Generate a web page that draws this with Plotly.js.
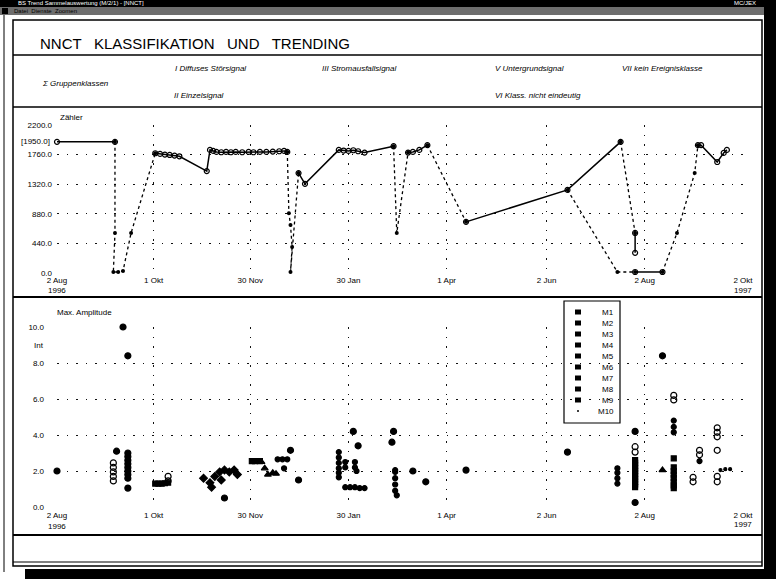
<!DOCTYPE html>
<html><head><meta charset="utf-8">
<script src="https://cdn.plot.ly/plotly-3.0.1.min.js"></script>
<style>html,body{margin:0;padding:0;background:#fff;}#chart{width:776px;height:579px;}</style>
</head><body><div id="chart"></div>
<script>
// ---------------- data ----------------
const tickDates = ['1996-08-02','1996-10-01','1996-11-30','1997-01-30','1997-04-01','1997-06-02','1997-08-02','1997-10-02'];
const tickLabels = ['2 Aug','1 Okt','30 Nov','30 Jan','1 Apr','2 Jun','2 Aug','2 Okt'];
const yearLabels = ['1996','1997'];
const yTopTicks = [0,440,880,1320,1760,2200];
const yTopLabels = ['0.0','440.0','880.0','1320.0','1760.0','2200.0'];
const yBotTicks = [0,2,4,6,8,10];
const yBotLabels = ['0.0','2.0','4.0','6.0','8.0','10.0'];
const cursorValue = 1950;
const intLevel = 9;

const headerTitle = 'NNCT   KLASSIFIKATION   UND   TRENDING';
const classTexts = ['I Diffuses Störsignal','III Stromausfallsignal','V Untergrundsignal','VII kein Ereignisklasse',
                    'Σ Gruppenklassen','II Einzelsignal','VI Klass. nicht eindeutig'];

// trend (Zähler) – solid connections, null = gap
const trendSolidDates = [
 '1996-08-02','1996-09-07',null,
 '1996-10-02','1996-10-05','1996-10-08','1996-10-11','1996-10-14','1996-10-17','1996-11-03','1996-11-05','1996-11-07','1996-11-09','1996-11-12','1996-11-15','1996-11-18','1996-11-21','1996-11-25','1996-11-29','1996-12-02','1996-12-06','1996-12-10','1996-12-14','1996-12-18','1996-12-21','1996-12-23',null,
 '1996-12-30','1997-01-03','1997-01-24','1997-01-27','1997-01-30','1997-02-02','1997-02-05','1997-02-09','1997-02-27',null,
 '1997-03-08','1997-03-11','1997-03-15','1997-03-20',null,
 '1997-04-13','1997-06-15','1997-07-18',null,
 '1997-07-27','1997-07-27',null,
 '1997-07-27','1997-08-13',null,
 '1997-09-04','1997-09-06','1997-09-16','1997-09-20','1997-09-22'];
const trendSolidValues = [
 1950,1950,null,
 1780,1770,1760,1755,1745,1735,1515,1830,1815,1800,1795,1800,1795,1800,1795,1800,1795,1800,1800,1805,1810,1815,1800,null,
 1485,1325,1830,1820,1815,1825,1810,1790,1885,null,
 1790,1800,1830,1900,null,
 760,1235,1950,null,
 595,300,null,
 15,15,null,
 1900,1900,1650,1785,1830];

// trend – dotted connections
const trendDotDates = [
 '1996-09-07','1996-09-07','1996-09-06','1996-09-09','1996-09-12','1996-09-17','1996-10-02',null,
 '1996-12-23','1996-12-24','1996-12-25','1996-12-26','1996-12-25','1996-12-30',null,
 '1997-02-27','1997-03-01','1997-03-08',null,
 '1997-03-20','1997-04-13',null,
 '1997-06-15','1997-07-16','1997-07-27',null,
 '1997-07-18','1997-07-27',null,
 '1997-08-13','1997-08-22','1997-09-02','1997-09-04'];
const trendDotValues = [
 1950,595,15,15,30,595,1780,null,
 1800,890,715,385,15,1485,null,
 1885,595,1790,null,
 1900,760,null,
 1235,15,15,null,
 1950,595,null,
 15,595,1485,1900];

// Max. Amplitude per class
const classNames = ['M1','M2','M3','M4','M5','M6','M7','M8','M9','M10'];
const m1Dates = ['1996-08-02','1996-09-12','1996-09-15','1996-09-08','1996-09-15','1996-09-15','1996-09-15','1996-09-15','1996-09-15','1996-09-15','1996-09-15','1996-09-15','1996-09-15','1996-11-14','1996-12-25','1996-12-30','1997-02-02','1997-02-05','1997-02-27','1997-02-26','1997-03-11','1997-03-19','1997-04-13','1997-06-15','1997-07-27','1997-08-19','1997-08-13','1997-07-27'];
const m1Values = [2.0,10.0,8.4,3.1,3.0,2.8,2.6,2.4,2.2,2.0,1.8,1.6,1.05,0.5,3.15,1.5,4.2,3.4,4.2,3.6,2.0,1.4,2.05,3.05,4.2,10.1,8.4,0.25];
const m2Dates = ['1996-09-06','1996-09-06','1996-09-06','1996-09-06','1996-09-06','1996-10-10','1996-10-10','1997-08-20','1997-08-20','1997-09-16','1997-09-16','1997-09-16','1997-09-16','1997-09-16','1997-09-16','1997-09-05','1997-09-05','1997-09-01','1997-09-01','1997-07-27','1997-07-27'];
const m2Values = [2.45,2.2,1.95,1.7,1.45,1.7,1.45,6.2,5.95,4.4,4.15,3.9,3.15,1.7,1.4,3.15,2.9,1.65,1.4,3.35,3.05];
const m3Dates = ['1996-10-02','1996-10-04','1996-10-06','1996-10-08','1996-10-10','1996-12-01','1996-12-03','1996-12-06'];
const m3Values = [1.3,1.3,1.3,1.32,1.35,2.55,2.55,2.55];
const m4Dates = ['1996-11-01','1996-11-05','1996-11-06','1996-11-08','1996-11-11','1996-11-12','1996-11-14','1996-11-17','1996-11-20','1996-11-22'];
const m4Values = [1.6,1.35,1.1,1.7,1.95,1.5,2.05,1.95,2.05,1.8];
const m5Dates = ['1997-08-13','1996-12-07','1996-12-09','1996-12-11','1996-12-14','1996-12-16'];
const m5Values = [2.05,2.5,2.15,1.8,1.9,1.85];
const m6Dates = ['1996-12-17','1996-12-20','1996-12-21','1996-12-23','1997-01-24','1997-01-24','1997-01-24','1997-01-24','1997-01-24','1997-01-24','1997-01-28','1997-01-28','1997-02-03','1997-02-03','1997-02-04'];
const m6Values = [2.65,2.65,2.15,2.65,3.05,2.75,2.45,2.15,1.9,1.65,2.5,2.2,2.5,2.2,2.0];
const m7Dates = ['1997-01-28','1997-01-31','1997-02-03','1997-02-06','1997-02-09','1997-02-28','1997-02-28','1997-02-28','1997-02-28','1997-02-28','1997-03-01'];
const m7Values = [1.1,1.1,1.1,1.05,1.05,2.05,1.95,1.6,1.25,0.9,0.65];
const m8Dates = ['1997-07-16','1997-07-16','1997-07-16','1997-07-16','1997-08-20','1997-08-20','1997-08-20','1997-09-05'];
const m8Values = [2.15,1.9,1.6,1.3,4.8,4.45,4.15,2.55];
const m9Dates = ['1997-07-27','1997-07-27','1997-07-27','1997-07-27','1997-07-27','1997-07-27','1997-07-27','1997-07-27','1997-07-27','1997-07-27','1997-07-27','1997-08-20','1997-08-20','1997-08-20','1997-08-20','1997-08-20','1997-08-20','1997-08-20','1997-08-20'];
const m9Values = [2.6,2.45,2.3,2.15,2.0,1.85,1.7,1.55,1.4,1.25,1.1,2.7,2.2,2.0,1.8,1.6,1.4,1.2,1.05];
const m10Dates = ['1997-09-18','1997-09-21','1997-09-24'];
const m10Values = [2.05,2.1,2.1];

// ---------------- drawing ----------------
const FONT = 'Liberation Sans, Arial, sans-serif';
const W = 776, H = 579;
const px = x => x / W, py = y => 1 - y / H;

const classData = [
  [m1Dates,m1Values,'circle',6],[m2Dates,m2Values,'circle-open',6],[m3Dates,m3Values,'square',5],
  [m4Dates,m4Values,'diamond',6],[m5Dates,m5Values,'triangle-up',6],[m6Dates,m6Values,'circle',5],
  [m7Dates,m7Values,'circle',5],[m8Dates,m8Values,'circle',5],[m9Dates,m9Values,'square',5],
  [m10Dates,m10Values,'circle',3]];

const traces = [
  {x: trendDotDates, y: trendDotValues, xaxis:'x', yaxis:'y', mode:'lines+markers', connectgaps:false,
   line:{color:'#000', width:1.3, dash:'dot'}, marker:{color:'#000', size:4}, cliponaxis:false, showlegend:false, hoverinfo:'skip'},
  {x: trendSolidDates, y: trendSolidValues, xaxis:'x', yaxis:'y', mode:'lines+markers', connectgaps:false,
   line:{color:'#000', width:1.5}, marker:{color:'#000', size:5, symbol:'circle-open', line:{width:1.2, color:'#000'}},
   cliponaxis:false, showlegend:false, hoverinfo:'skip'}
];
classData.forEach((c, i) => {
  traces.push({x: c[0], y: c[1], name: classNames[i], xaxis:'x2', yaxis:'y2', mode:'markers', type:'scatter',
    marker:{color:'#000', symbol:c[2], size:c[3], line:{color:'#000', width:1.2}}, cliponaxis:false, showlegend:false, hoverinfo:'skip'});
});

const gridStyle = {showgrid:true, gridcolor:'#111', gridwidth:1, griddash:'1.5px,8px', zeroline:false, showline:false, ticks:''};
const tf = {family:FONT, size:8, color:'#000'};

const shapes = [];
const annotations = [];
const rect = (x0,y0,x1,y1,fill,lw,lc) => shapes.push({type:'rect', xref:'paper', yref:'paper', x0:px(x0), x1:px(x1), y0:py(y0), y1:py(y1),
   fillcolor: fill || 'rgba(0,0,0,0)', line:{width: lw||0, color: lc||'#000'}, layer:'below'});
const hline = (x0,x1,y,w) => shapes.push({type:'line', xref:'paper', yref:'paper', x0:px(x0), x1:px(x1), y0:py(y), y1:py(y), line:{color:'#000', width:w}});
const txt = (x,y,t,size,anchor,opts) => annotations.push(Object.assign({xref:'paper', yref:'paper', x:px(x), y:py(y), text:t, showarrow:false,
   xanchor:anchor||'left', yanchor:'middle', font:{family:FONT, size:size, color:'#000'}}, opts||{}));

// window chrome
rect(0,0,776,7,'#000');
rect(0,7,768,15,'#6e6e6e');
rect(2,8,8,14,'#000');
rect(764,0,776,570,'#000');
rect(25,569,776,579,'#000');
shapes.push({type:'line', xref:'paper', yref:'paper', x0:px(4), x1:px(4), y0:py(15), y1:py(572), line:{color:'#000', width:1}});
rect(13,20,762,566,null,1.5);
hline(13,762,55,1.5);
hline(13,762,107,1.5);
hline(13,762,297,2);
hline(13,762,535,2);
hline(13,762,562,1.2);
txt(16,3.5,'BS Trend Sammelauswertung (M/2/1) - [NNCT]',6,'left',{font:{family:FONT,size:6,color:'#fff'}});
txt(758,3.5,'MC/JEX',6,'right',{font:{family:FONT,size:6,color:'#fff'}});
txt(12,11,'Datei  Dienste  Zoomen',6,'left');

// header
txt(38,43,headerTitle,15,'left');
const classPos = [[173,68],[320,68],[493,68],[620,68],[40,84],[172,95],[493,95]];
classTexts.forEach((t,i) => txt(classPos[i][0], classPos[i][1], t, 8, 'left', {font:{family:FONT,size:8,color:'#000',style:'italic'}}));

// axis titles & extra labels
txt(58,117,'Zähler',8,'left');
txt(55,312,'Max. Amplitude',8,'left');
annotations.push({xref:'paper', yref:'y', x:px(52), y:cursorValue, text:'['+cursorValue.toFixed(1)+']', showarrow:false, xanchor:'right', yanchor:'middle', font:tf});
annotations.push({xref:'paper', yref:'y2', x:px(46), y:intLevel, text:'Int', showarrow:false, xanchor:'right', yanchor:'middle', font:tf});
txt(57,290,yearLabels[0],8,'center');
txt(743,290,yearLabels[1],8,'center');
txt(57,526,yearLabels[0],8,'center');
txt(743,524,yearLabels[1],8,'center');

// manual legend
rect(564,301,620,423,'#fff',1.2);
classNames.forEach((n,i) => {
  const yy = 312 + i*11;
  if (i < 9) rect(575,yy-2.5,581,yy+2.5,'#000');
  else shapes.push({type:'circle', xref:'paper', yref:'paper', x0:px(577), x1:px(579), y0:py(yy-1), y1:py(yy+1), fillcolor:'#000', line:{width:0}});
  txt(616,yy,n,8,'right');
});

const layout = {
  width:W, height:H, margin:{l:0,r:0,t:0,b:0,pad:0}, paper_bgcolor:'#fff', plot_bgcolor:'rgba(0,0,0,0)',
  showlegend:false, font:{family:FONT, size:8, color:'#000'},
  xaxis: Object.assign({}, gridStyle, {type:'date', domain:[px(57),px(743)], anchor:'y', range:['1996-08-02','1997-10-02'],
    tickmode:'array', tickvals:tickDates, ticktext:tickLabels, tickfont:tf, ticklabelstandoff:1}),
  yaxis: Object.assign({}, gridStyle, {domain:[py(273),py(125)], anchor:'x', range:[0,2200],
    tickmode:'array', tickvals:yTopTicks, ticktext:yTopLabels, tickfont:tf, ticklabelstandoff:4}),
  xaxis2: Object.assign({}, gridStyle, {type:'date', domain:[px(57),px(743)], anchor:'y2', range:['1996-08-02','1997-10-02'],
    tickmode:'array', tickvals:tickDates, ticktext:tickLabels, tickfont:tf, ticklabelstandoff:2}),
  yaxis2: Object.assign({}, gridStyle, {domain:[py(507),py(327)], anchor:'x2', range:[0,10],
    tickmode:'array', tickvals:yBotTicks, ticktext:yBotLabels, tickfont:tf, ticklabelstandoff:12}),
  shapes: shapes, annotations: annotations
};
Plotly.newPlot('chart', traces, layout, {staticPlot:true, displayModeBar:false});
</script></body></html>
